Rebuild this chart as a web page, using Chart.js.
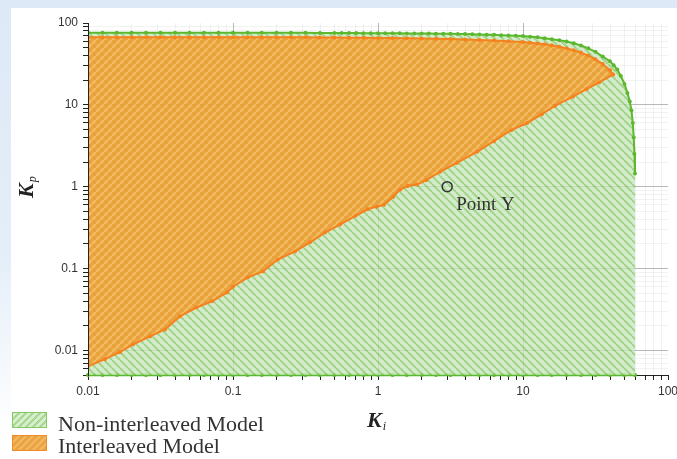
<!DOCTYPE html>
<html>
<head>
<meta charset="utf-8">
<script src="https://cdn.jsdelivr.net/npm/chart.js@4.4.1/dist/chart.umd.min.js"></script>
<style>
  html, body { margin: 0; padding: 0; }
  body { width: 677px; height: 459px; overflow: hidden; position: relative; background: #fff;
         font-family: "Liberation Serif", "Times New Roman", serif; }
  #bandTop { position: absolute; left: 0; top: 0; width: 677px; height: 8px; background: #dde9f6; }
  #bandLeft { position: absolute; left: 0; top: 0; width: 11px; height: 459px;
              background: linear-gradient(#dde9f6 0%, #e4eef8 55%, #ffffff 95%); }
  #chart { position: absolute; left: 0; top: 0; }
  .title { position: absolute; font-weight: bold; font-style: italic; font-size: 22px; line-height: 22px;
           color: #222; white-space: nowrap; }
  .title span { font-weight: normal; font-size: 12px; position: relative; top: 3px; margin-left: 1px; }
  #kp { left: 15px; top: 198px; transform-origin: 0 0; transform: rotate(-90deg); }
  #ki { left: 367px; top: 409px; }
  .sw { position: absolute; left: 12px; width: 33px; height: 14px; }
  #swGreen { top: 412px; border: 1px solid #86c766;
             background: repeating-linear-gradient(135deg, #d6eecb 0 3px, #a8d894 3px 5px); }
  #swOrange { top: 435px; border: 1px solid #f08a2a;
              background: repeating-linear-gradient(135deg, #eba443 0 3px, #f1b860 3px 5px); }
  .lg { position: absolute; left: 58px; font-size: 22px; line-height: 22px; color: #333; white-space: nowrap; }
  #lgGreen { top: 413px; }
  #lgOrange { top: 435px; }
</style>
</head>
<body>
<div id="bandTop"></div>
<div id="bandLeft"></div>
<canvas id="chart" width="677" height="459"></canvas>
<div class="title" id="kp">K<span>p</span></div>
<div class="title" id="ki">K<span>i</span></div>
<div class="sw" id="swGreen"></div>
<div class="lg" id="lgGreen">Non-interleaved Model</div>
<div class="sw" id="swOrange"></div>
<div class="lg" id="lgOrange">Interleaved Model</div>
<script>
// axis limits and labelled ticks
const xMin = 0.01, xMax = 100;
const yMin = 0.005, yMax = 100;
const xTickLabels = [0.01, 0.1, 1, 10, 100];
const yTickLabels = [0.01, 0.1, 1, 10, 100];

// Non-interleaved model: upper boundary of the stable region
const greenKi = [0.01, 0.0126, 0.0158, 0.02, 0.0251, 0.0316, 0.0398, 0.0501, 0.0631, 0.0794,
  0.1, 0.126, 0.158, 0.2, 0.251, 0.316, 0.398, 0.5, 0.562, 0.631, 0.708, 0.794, 0.891,
  1, 1.12, 1.26, 1.41, 1.58, 1.78, 2, 2.24, 2.51, 2.82, 3.16, 3.55, 3.98, 4.47, 5.01, 5.62,
  6.31, 7.08, 7.94, 8.91, 10, 11.2, 12.6, 14.1, 15.8, 17.8, 20, 22.4, 25.1, 28.2, 31.6,
  35.5, 39.8, 42.2, 44.7, 47.3, 50.1, 52.5, 54.5, 56, 57.2, 58, 58.7, 59.2];
const greenKp = [76, 76, 76, 76, 76, 76, 76, 76, 76, 76,
  76, 76, 76, 76, 76, 75.8, 75.7, 75.6, 75.5, 75.4, 75.3, 75.2, 75.1,
  75, 74.9, 74.8, 74.7, 74.5, 74.4, 74.3, 74.2, 74.1, 74, 73.8, 73.5, 73.2, 72.8, 72.4, 72,
  71.6, 71, 70.3, 69.7, 69.2, 68, 66.8, 65.3, 63.5, 61.5, 59.5, 56.5, 53, 49, 44.5,
  39, 34, 30.5, 27, 22.5, 18, 14, 11, 8.5, 6, 4, 2.5, 1.45];

// Non-interleaved model: lower boundary (lies on the Kp axis minimum)
const greenBaseKi = [0.01, 0.0126, 0.0158, 0.02, 0.0251, 0.0316, 0.0398, 0.0501, 0.0631, 0.0794,
  0.1, 0.126, 0.158, 0.2, 0.251, 0.316, 0.398, 0.501, 0.631, 0.794,
  1, 1.26, 1.58, 2, 2.51, 3.16, 3.98, 5.01, 6.31, 7.94,
  10, 12.6, 15.8, 20, 25.1, 31.6, 39.8, 50.1, 59.2];
const greenBaseKp = [0.005, 0.005, 0.005, 0.005, 0.005, 0.005, 0.005, 0.005, 0.005, 0.005,
  0.005, 0.005, 0.005, 0.005, 0.005, 0.005, 0.005, 0.005, 0.005, 0.005,
  0.005, 0.005, 0.005, 0.005, 0.005, 0.005, 0.005, 0.005, 0.005, 0.005,
  0.005, 0.005, 0.005, 0.005, 0.005, 0.005, 0.005, 0.005, 0.005];

// Interleaved model: upper boundary
const orangeTopKi = [0.01, 0.0126, 0.0158, 0.02, 0.0251, 0.0316, 0.0398, 0.0501, 0.0631, 0.0794,
  0.1, 0.126, 0.158, 0.2, 0.251, 0.316, 0.398, 0.5, 0.631, 0.794,
  1, 1.26, 1.58, 2, 2.51, 3.16, 3.98, 5.01, 6.31, 7.94,
  10, 11.2, 12.6, 14.1, 15.8, 17.8, 20, 22.4, 25.1, 28.2, 31.6, 35.5, 39.8, 41.7];
const orangeTopKp = [67, 67, 67, 67, 67, 67, 67, 67, 67, 67,
  67, 67, 67, 67, 67, 66.8, 66.6, 66.4, 66.2, 66,
  65.8, 65.5, 65.2, 64.8, 64.3, 63.7, 63, 62, 61, 59.8,
  58.5, 57.5, 56.3, 55, 53.3, 51.3, 49, 46.5, 43.5, 40, 36, 31.5, 26.5, 23.4];

// Interleaved model: lower boundary
const orangeLowKi = [0.01, 0.0131, 0.0166, 0.0204, 0.0268, 0.034, 0.043, 0.056, 0.0716, 0.091,
  0.1, 0.127, 0.161, 0.204, 0.268, 0.34, 0.431, 0.547, 0.7, 0.85, 0.98, 1.1, 1.27, 1.42,
  1.6, 1.86, 2.15, 2.68, 3.5, 4.82, 6.3, 8.3, 10.7, 13.5, 16.6, 22.1, 27.5, 33.5, 41.7];
const orangeLowKp = [0.0064, 0.0078, 0.0095, 0.0118, 0.0148, 0.018, 0.026, 0.0334, 0.0398, 0.051,
  0.06, 0.078, 0.092, 0.129, 0.162, 0.209, 0.275, 0.344, 0.44, 0.53, 0.57, 0.6, 0.75, 0.92,
  1.02, 1.06, 1.2, 1.52, 1.95, 2.67, 3.6, 4.9, 6.0, 7.7, 9.7, 12.6, 15.6, 18.8, 23.4];

// Point Y
const pointYKi = [3];
const pointYKp = [1];

const toXY = (xs, ys) => xs.map((x, i) => ({ x: x, y: ys[i] }));

// hatch fill, drawn opaque then laid down with some transparency so the grid shows through
function makeHatch(bg, fg, dir, alpha) {
  const src = document.createElement("canvas");
  src.width = 8; src.height = 8;
  const g = src.getContext("2d");
  g.fillStyle = bg;
  g.fillRect(0, 0, 8, 8);
  g.strokeStyle = fg;
  g.lineWidth = 2;
  g.beginPath();
  [-8, 0, 8].forEach((o) => {
    if (dir === "back") { g.moveTo(o, 0); g.lineTo(o + 8, 8); }
    else { g.moveTo(o, 8); g.lineTo(o + 8, 0); }
  });
  g.stroke();
  const out = document.createElement("canvas");
  out.width = 8; out.height = 8;
  const g2 = out.getContext("2d");
  g2.globalAlpha = alpha;
  g2.drawImage(src, 0, 0);
  return g2.createPattern(out, "repeat");
}

const greenLine = "#5cb82e";
const orangeLine = "#f5821f";
const greenHatch = makeHatch("#cae7be", "#89ca6c", "back", 0.78);
const orangeHatch = makeHatch("#f09829", "#fab756", "fwd", 0.86);

function isDecade(v) {
  const l = Math.log10(v);
  return Math.abs(l - Math.round(l)) < 1e-9;
}

function logTicks(min, max) {
  const out = [];
  for (let e = -3; e <= 2; e++) {
    for (let m = 1; m <= 9; m++) {
      const v = +(m * Math.pow(10, e)).toPrecision(6);
      if (v >= min * 0.999999 && v <= max * 1.000001) out.push({ value: v });
    }
  }
  return out;
}

function gridColor(min, max) {
  return (ctx) => {
    const v = ctx.tick ? ctx.tick.value : null;
    if (v == null) return "rgba(0,0,0,0)";
    if (Math.abs(v - min) < 1e-12 || Math.abs(v - max) < 1e-9) return "rgba(0,0,0,0)";
    return isDecade(v) ? "rgba(70,70,70,0.38)" : "rgba(0,0,0,0.05)";
  };
}

const pointLabel = {
  id: "pointLabel",
  afterDatasetsDraw(chart) {
    const el = chart.getDatasetMeta(0).data[0];
    if (!el) return;
    const ctx = chart.ctx;
    ctx.save();
    ctx.font = '19px "Liberation Serif", "Times New Roman", serif';
    ctx.fillStyle = "#333";
    ctx.textAlign = "left";
    ctx.textBaseline = "alphabetic";
    ctx.fillText("Point Y", el.x + 9, el.y + 23);
    ctx.restore();
  }
};

new Chart(document.getElementById("chart"), {
  type: "scatter",
  data: {
    datasets: [
      {
        label: "Point Y",
        data: toXY(pointYKi, pointYKp),
        showLine: false,
        pointStyle: "circle",
        pointRadius: 5,
        pointBorderWidth: 1.5,
        pointBorderColor: "#333",
        pointBackgroundColor: "rgba(0,0,0,0)"
      },
      {
        label: "Interleaved lower",
        data: toXY(orangeLowKi, orangeLowKp),
        showLine: true,
        borderColor: orangeLine,
        borderWidth: 2,
        pointRadius: 2,
        pointBorderWidth: 0,
        pointBackgroundColor: orangeLine,
        fill: false
      },
      {
        label: "Interleaved Model",
        data: toXY(orangeTopKi, orangeTopKp),
        showLine: true,
        borderColor: orangeLine,
        borderWidth: 2,
        pointRadius: 2,
        pointBorderWidth: 0,
        pointBackgroundColor: orangeLine,
        backgroundColor: orangeHatch,
        fill: "-1"
      },
      {
        label: "Non-interleaved Model",
        data: toXY(greenKi, greenKp),
        showLine: true,
        borderColor: greenLine,
        borderWidth: 2,
        pointRadius: 2,
        pointBorderWidth: 0,
        pointBackgroundColor: greenLine,
        backgroundColor: greenHatch,
        fill: "start"
      },
      {
        label: "Non-interleaved base",
        data: toXY(greenBaseKi, greenBaseKp),
        showLine: true,
        borderColor: greenLine,
        borderWidth: 2.5,
        pointRadius: 2,
        pointBorderWidth: 0,
        pointBackgroundColor: greenLine,
        fill: false,
        clip: 4
      }
    ]
  },
  options: {
    responsive: false,
    animation: false,
    devicePixelRatio: 1,
    layout: { padding: { top: 23, right: 9, left: 0, bottom: 0 } },
    plugins: { legend: { display: false }, tooltip: { enabled: false } },
    scales: {
      x: {
        type: "logarithmic",
        min: xMin,
        max: xMax,
        afterBuildTicks: (s) => { s.ticks = logTicks(xMin, xMax); },
        afterFit: (s) => { s.height = 84; s.paddingLeft = 0; s.paddingRight = 0; },
        grid: { color: gridColor(xMin, xMax), lineWidth: 1, tickLength: 5, tickColor: "#222" },
        border: { color: "#222", width: 1 },
        ticks: {
          autoSkip: false,
          maxRotation: 0,
          padding: 4,
          color: "#333",
          font: { family: '"Liberation Sans", Arial, sans-serif', size: 12 },
          callback: (v) => (xTickLabels.some((t) => Math.abs(t - v) < t * 1e-6) ? String(v) : "")
        }
      },
      y: {
        type: "logarithmic",
        min: yMin,
        max: yMax,
        afterBuildTicks: (s) => { s.ticks = logTicks(yMin, yMax); },
        afterFit: (s) => { s.width = 88; s.paddingTop = 0; s.paddingBottom = 0; },
        grid: { color: gridColor(yMin, yMax), lineWidth: 1, tickLength: 5, tickColor: "#222" },
        border: { color: "#222", width: 1, z: 1 },
        ticks: {
          autoSkip: false,
          padding: 5,
          color: "#333",
          font: { family: '"Liberation Sans", Arial, sans-serif', size: 12 },
          callback: (v) => (yTickLabels.some((t) => Math.abs(t - v) < t * 1e-6) ? String(v) : "")
        }
      }
    }
  },
  plugins: [pointLabel]
});
</script>
</body>
</html>
